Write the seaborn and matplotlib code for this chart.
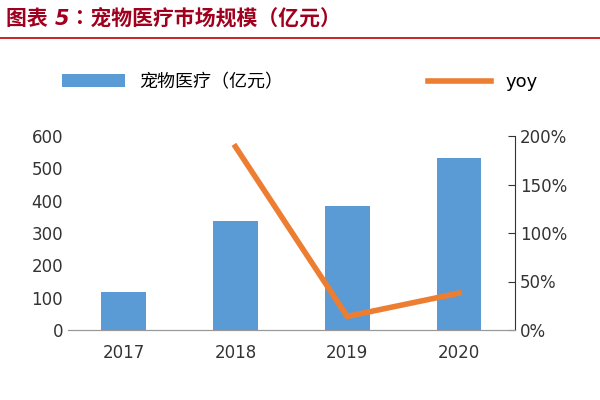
import matplotlib
matplotlib.use("Agg")
import matplotlib.pyplot as plt
from matplotlib import font_manager as fm
import seaborn as sns
import pandas as pd
from matplotlib.ticker import FuncFormatter

years = ["2017", "2018", "2019", "2020"]
market = [117, 338, 385, 532]
yoy_years = ["2018", "2019", "2020"]
yoy = [189, 14, 38]

cjk = None
for f in fm.findSystemFonts():
    if "NotoSansCJK" in f.replace(" ", "") or "CJK" in f:
        try:
            fm.fontManager.addfont(f)
            name = fm.FontProperties(fname=f).get_name()
            if cjk is None or "SC" in name:
                cjk = name
        except Exception:
            pass
plt.rcParams["font.family"] = ["DejaVu Sans"] + ([cjk] if cjk else []) + ["Noto Sans CJK SC"]
plt.rcParams["font.sans-serif"] = ["DejaVu Sans"] + ([cjk] if cjk else [])

fig = plt.figure(figsize=(6, 4), dpi=100)
ax = fig.add_axes([0.113, 0.175, 0.745, 0.485])
df = pd.DataFrame({"year": years, "v": market})
sns.barplot(data=df, x="year", y="v", color="#5B9BD5", width=0.4, ax=ax, saturation=1,
            label="宠物医疗（亿元）", legend=False)
if ax.get_legend():
    ax.get_legend().remove()
ax.set_ylim(0, 600)
ax.set_yticks(range(0, 601, 100))
ax.set_xlabel(""); ax.set_ylabel("")
ax2 = ax.twinx()
ax2.plot([years.index(y) for y in yoy_years], yoy, color="#ED7D31", lw=4, label="yoy")
ax2.set_ylim(0, 200)
ax2.set_yticks(range(0, 201, 50))
ax2.yaxis.set_major_formatter(FuncFormatter(lambda v, p: f"{int(v)}%"))
ax.set_xlim(-0.5, 3.5)
for a in (ax, ax2):
    a.spines["top"].set_visible(False)
    a.tick_params(labelsize=12, colors="#333333", length=0)
ax.spines["left"].set_visible(False); ax2.spines["left"].set_visible(False)
ax.spines["right"].set_visible(False)
ax2.spines["right"].set_color("#333333")
ax2.spines["bottom"].set_color("#999999")
ax.spines["bottom"].set_color("#999999")
ax2.tick_params(axis="y", length=5, direction="in", colors="#333333")
ax.tick_params(axis="x", pad=10)

fig.text(0.01, 0.955, "图表 5：宠物医疗市场规模（亿元）", fontsize=15, fontweight="bold",
         style="italic", color="#A0001E", va="center")
fig.add_artist(plt.Line2D([0, 1], [0.905, 0.905], color="#C00000", lw=1.2))
h1 = [ax.patches[0]]
l1 = ["宠物医疗（亿元）"]
h2, l2 = ax2.get_legend_handles_labels()
fig.legend(h1 + h2, l1 + l2, loc="center", bbox_to_anchor=(0.5, 0.795), ncol=2,
           frameon=False, fontsize=13, columnspacing=8, handlelength=3.5)
fig.savefig("out.png", dpi=100, facecolor="white")
